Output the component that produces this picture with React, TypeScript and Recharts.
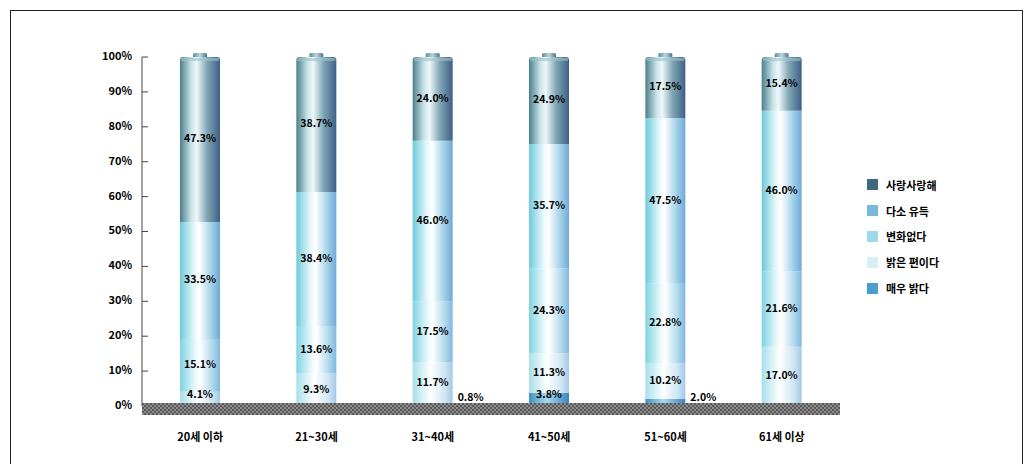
import { BarChart, Bar, XAxis, YAxis, LabelList } from "recharts";

// 연령대
const ageGroups = ["20세 이하", "21~30세", "31~40세", "41~50세", "51~60세", "61세 이상"];

// 응답 비율 (%) - 아래에서 위로 쌓이는 순서
const veryBright = [0, 0, 0.8, 3.8, 2.0, 0];
const fairlyBright = [4.1, 9.3, 11.7, 11.3, 10.2, 17.0];
const noChange = [15.1, 13.6, 17.5, 24.3, 22.8, 21.6];
const somewhat = [33.5, 38.4, 46.0, 35.7, 47.5, 46.0];
const lovely = [47.3, 38.7, 24.0, 24.9, 17.5, 15.4];

const yTicks = [0, 10, 20, 30, 40, 50, 60, 70, 80, 90, 100];

const series = [
  { key: "s1", name: "사랑사랑해", swatch: "#3f6a7c" },
  { key: "s2", name: "다소 유득", swatch: "#79b9dc" },
  { key: "s3", name: "변화없다", swatch: "#9fd9e8" },
  { key: "s4", name: "밝은 편이다", swatch: "#d6eef4" },
  { key: "s5", name: "매우 밝다", swatch: "#4b9dd0" },
];

const data = ageGroups.map((g, i) => ({
  group: g,
  s5: veryBright[i],
  s4: fairlyBright[i],
  s3: noChange[i],
  s2: somewhat[i],
  s1: lovely[i],
}));

const FONT = "'Noto Sans CJK KR', 'Noto Sans', sans-serif";
const ZERO_Y = 406;

const SegLabel = (props: any) => {
  const { x, y, width, height, value } = props;
  if (!value) return null;
  const txt = `${Number(value).toFixed(1)}%`;
  if (value < 3) {
    return (
      <text x={x + width + 5} y={y + height - 8} fontSize={10.5} fontWeight={700} fontFamily={FONT} fill="#000" textAnchor="start" dominantBaseline="middle">
        {txt}
      </text>
    );
  }
  const cy = Math.min(y + height / 2, ZERO_Y - 11);
  return (
    <text x={x + width / 2} y={cy} fontSize={10.5} fontWeight={700} fontFamily={FONT} fill="#000" textAnchor="middle" dominantBaseline="middle">
      {txt}
    </text>
  );
};

const TopShape = (props: any) => {
  const { x, y, width, height, fill } = props;
  if (!height) return null;
  const r = 3;
  const d = `M${x},${y + height} L${x},${y + r} Q${x},${y} ${x + r},${y} L${x + width - r},${y} Q${x + width},${y} ${x + width},${y + r} L${x + width},${y + height} Z`;
  return (
    <g>
      <rect x={x + width / 2 - 7} y={y - 4} width={14} height={5} rx={1.5} fill="url(#gCap)" />
      <path d={d} fill={fill} />
      <rect x={x + 1} y={y + 1} width={width - 2} height={3} fill="#9cc3c9" opacity={0.6} />
    </g>
  );
};

const YTick = (props: any) => {
  const { x, y, payload } = props;
  return (
    <g>
      <line x1={x + 10} x2={x + 16} y1={y} y2={y} stroke="#444" />
      <text x={x} y={y} textAnchor="end" dominantBaseline="middle" fontSize={11} fontWeight={700} fontFamily={FONT} fill="#000">
        {payload.value}%
      </text>
    </g>
  );
};

export default function App() {
  return (
    <div style={{ position: "absolute", left: 0, top: 0, width: 1032, height: 464, background: "#fff", overflow: "hidden" }}>
      <div style={{ position: "absolute", left: 10, top: 10, width: 1011, height: 470, border: "1px solid #222" }} />
      <BarChart
        width={1032}
        height={464}
        data={data}
        margin={{ top: 57, right: 192, left: 82, bottom: 18 }}
        barSize={40}
        style={{ position: "absolute", left: 0, top: 0 }}
      >
        <defs>
          <linearGradient id="gDark" x1="0" x2="1" y1="0" y2="0">
            <stop offset="0" stopColor="#4a7f8c" />
            <stop offset="0.28" stopColor="#c9e3e8" />
            <stop offset="0.42" stopColor="#eef8fa" />
            <stop offset="0.68" stopColor="#7fa6b4" />
            <stop offset="1" stopColor="#3e5f86" />
          </linearGradient>
          <linearGradient id="gLight" x1="0" x2="1" y1="0" y2="0">
            <stop offset="0" stopColor="#6ccbdc" />
            <stop offset="0.35" stopColor="#e6f7fa" />
            <stop offset="0.48" stopColor="#ffffff" />
            <stop offset="0.75" stopColor="#acd6ea" />
            <stop offset="1" stopColor="#6ea9d9" />
          </linearGradient>
          <linearGradient id="gLight2" x1="0" x2="1" y1="0" y2="0">
            <stop offset="0" stopColor="#7fd3e2" />
            <stop offset="0.4" stopColor="#eefafc" />
            <stop offset="0.5" stopColor="#ffffff" />
            <stop offset="0.78" stopColor="#b7dcee" />
            <stop offset="1" stopColor="#80b8df" />
          </linearGradient>
          <linearGradient id="gPale" x1="0" x2="1" y1="0" y2="0">
            <stop offset="0" stopColor="#a6e0ea" />
            <stop offset="0.45" stopColor="#ffffff" />
            <stop offset="0.8" stopColor="#cfe6f2" />
            <stop offset="1" stopColor="#a5c8e6" />
          </linearGradient>
          <linearGradient id="gBlue" x1="0" x2="1" y1="0" y2="0">
            <stop offset="0" stopColor="#3f92c6" />
            <stop offset="0.45" stopColor="#a6daee" />
            <stop offset="1" stopColor="#3b82c2" />
          </linearGradient>
          <linearGradient id="gCap" x1="0" x2="1" y1="0" y2="0">
            <stop offset="0" stopColor="#5d8f97" />
            <stop offset="0.5" stopColor="#b9d6da" />
            <stop offset="1" stopColor="#4f7590" />
          </linearGradient>
        </defs>
        <XAxis
          dataKey="group"
          axisLine={false}
          tickLine={false}
          tickSize={0}
          tickMargin={27}
          tick={{ fontSize: 11, fontWeight: 700, fontFamily: FONT, fill: "#000" }}
          height={40}
          interval={0}
        />
        <YAxis
          type="number"
          domain={[0, 100]}
          ticks={yTicks}
          interval={0}
          axisLine={{ stroke: "#444" }}
          tickLine={false}
          tickSize={0}
          tickMargin={10}
          tick={<YTick />}
          width={60}
        />
        <Bar dataKey="s5" name="매우 밝다" stackId="a" fill="url(#gBlue)" isAnimationActive={false}>
          <LabelList dataKey="s5" content={<SegLabel />} />
        </Bar>
        <Bar dataKey="s4" name="밝은 편이다" stackId="a" fill="url(#gPale)" isAnimationActive={false}>
          <LabelList dataKey="s4" content={<SegLabel />} />
        </Bar>
        <Bar dataKey="s3" name="변화없다" stackId="a" fill="url(#gLight2)" isAnimationActive={false}>
          <LabelList dataKey="s3" content={<SegLabel />} />
        </Bar>
        <Bar dataKey="s2" name="다소 유득" stackId="a" fill="url(#gLight)" isAnimationActive={false}>
          <LabelList dataKey="s2" content={<SegLabel />} />
        </Bar>
        <Bar dataKey="s1" name="사랑사랑해" stackId="a" fill="url(#gDark)" shape={<TopShape />} isAnimationActive={false}>
          <LabelList dataKey="s1" content={<SegLabel />} />
        </Bar>
      </BarChart>
      {/* 바닥 면 */}
      <div
        style={{
          position: "absolute",
          left: 142,
          top: 403,
          width: 698,
          height: 12,
          background: "repeating-conic-gradient(#8c8c8c 0 25%, #5a5a5a 0 50%) 0 0 / 4px 4px",
        }}
      />
      {/* 범례 */}
      <div style={{ position: "absolute", left: 867, top: 172, fontFamily: FONT, fontSize: 11, fontWeight: 700, color: "#000" }}>
        {series.map((s) => (
          <div key={s.key} style={{ display: "flex", alignItems: "center", height: 25.8 }}>
            <span style={{ display: "inline-block", width: 11, height: 11, background: s.swatch, marginRight: 8 }} />
            <span>{s.name}</span>
          </div>
        ))}
      </div>
    </div>
  );
}
